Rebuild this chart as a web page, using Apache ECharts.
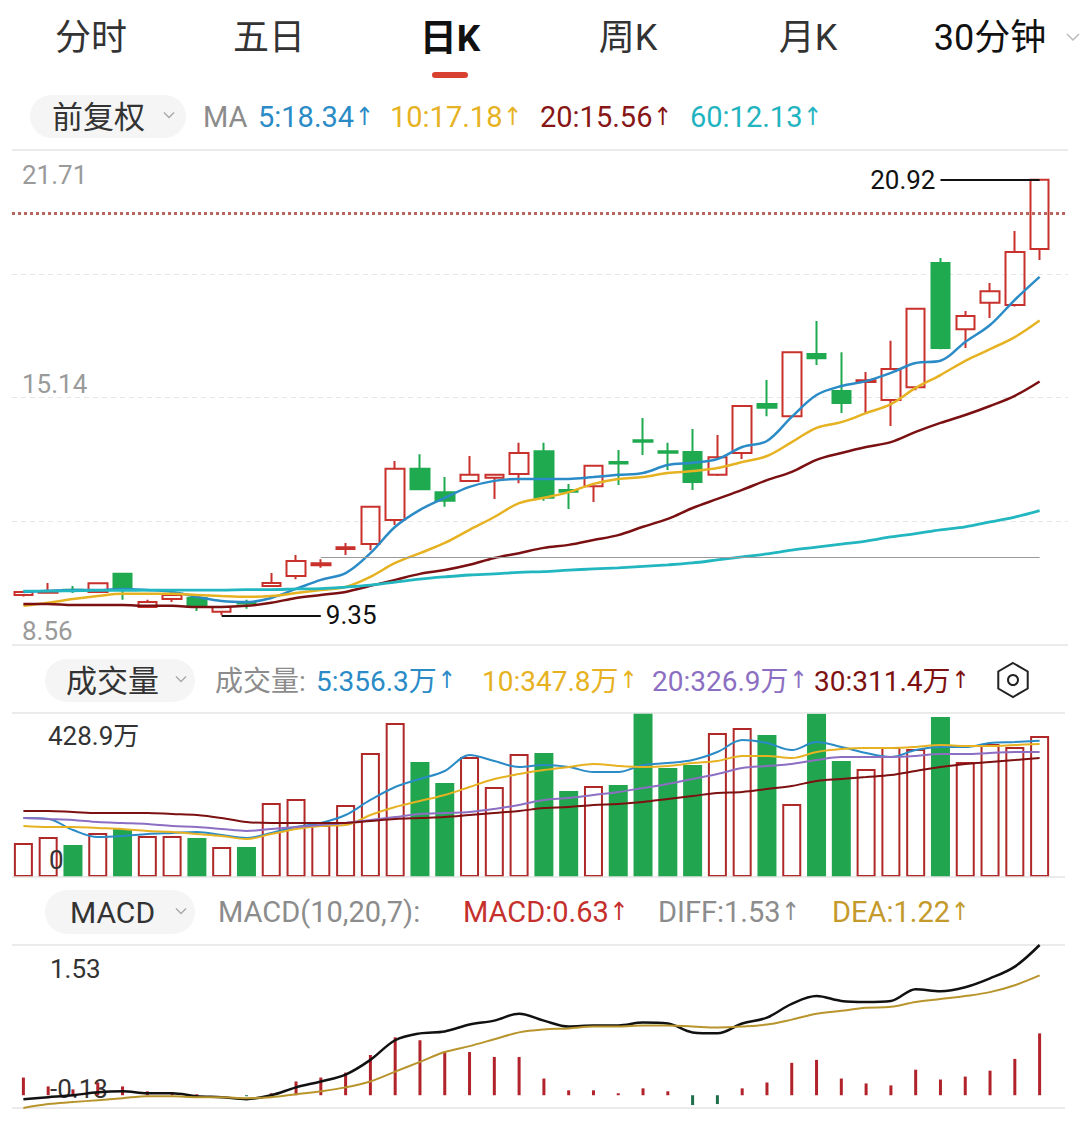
<!DOCTYPE html>
<html>
<head>
<meta charset="utf-8">
<title>日K</title>
<script src="https://cdn.jsdelivr.net/npm/echarts@6.0.0/dist/echarts.min.js"></script>
<style>
    html, body { margin: 0; padding: 0; background: #fff; }
    #chart { width: 1080px; height: 1124px; }
</style>
</head>
<body>
<div id="chart"></div>
<script>
(function () {
    // 坐标轴范围与刻度文字
    var priceMin = 8.56, priceMax = 21.71;
    var priceTicks = ['8.56', '15.14', '21.71'];
    var volMax = 428.9;
    var volTicks = ['0', '428.9万'];
    var macdMin = -0.13, macdMax = 1.53;
    var macdTicks = ['-0.13', '1.53'];

    // K线: 开 收 低 高
    var openP  = [9.89, 9.95, 10.03, 9.97, 10.45, 9.57, 9.78, 9.81, 9.44, 9.70,
                  10.13, 10.39, 10.68, 11.11, 11.24, 11.88, 13.24, 12.62, 12.92, 13.00,
                  13.10, 13.71, 12.68, 12.78, 13.42, 14.00, 13.71, 13.69, 13.08, 13.66,
                  14.96, 14.64, 16.29, 15.31, 15.55, 15.07, 15.41, 18.71, 16.95, 17.65,
                  17.59, 19.08];
    var closeP = [9.97, 9.97, 10.01, 10.20, 10.02, 9.70, 9.89, 9.57, 9.57, 9.66,
                  10.21, 10.79, 10.73, 11.16, 12.23, 13.24, 12.70, 12.39, 13.08, 13.08,
                  13.66, 12.47, 12.63, 13.32, 13.38, 13.96, 13.67, 12.89, 13.55, 14.91,
                  14.86, 16.34, 16.18, 14.99, 15.59, 15.89, 17.49, 16.45, 17.30, 17.96,
                  19.00, 20.92];
    var lowP   = [9.85, 9.93, 9.94, 9.95, 9.76, 9.54, 9.70, 9.46, 9.35, 9.52,
                  10.10, 10.31, 10.61, 10.95, 11.08, 11.75, 12.68, 12.23, 12.90, 12.44,
                  12.86, 12.39, 12.17, 12.36, 12.81, 13.61, 13.21, 12.68, 13.05, 13.50,
                  14.64, 14.62, 16.00, 14.72, 14.72, 14.38, 15.33, 16.42, 16.45, 17.25,
                  17.55, 18.79];
    var highP  = [10.00, 10.21, 10.13, 10.23, 10.47, 9.76, 9.90, 9.82, 9.58, 9.76,
                  10.47, 10.95, 10.84, 11.27, 12.25, 13.45, 13.63, 13.02, 13.58, 13.09,
                  13.93, 13.93, 12.84, 13.35, 13.74, 14.59, 13.93, 14.30, 14.14, 14.93,
                  15.60, 16.36, 17.17, 16.34, 15.81, 16.64, 17.50, 18.84, 17.43, 18.18,
                  19.56, 20.92];

    var ma5  = [9.97, 10.00, 10.02, 10.02, 10.05, 10.02, 9.97, 9.84, 9.73, 9.70,
                9.81, 10.05, 10.29, 10.47, 11.00, 11.70, 12.15, 12.47, 12.76, 12.92,
                12.97, 12.97, 12.97, 13.02, 13.08, 13.13, 13.34, 13.40, 13.50, 13.82,
                13.98, 14.62, 15.20, 15.44, 15.57, 15.79, 16.05, 16.11, 16.61, 17.06,
                17.73, 18.34];
    var ma10 = [9.60, 9.68, 9.78, 9.86, 9.92, 9.92, 9.92, 9.89, 9.86, 9.84,
                9.86, 9.94, 10.02, 10.10, 10.37, 10.74, 11.00, 11.27, 11.62, 11.96,
                12.33, 12.47, 12.62, 12.84, 12.97, 13.02, 13.13, 13.18, 13.26, 13.42,
                13.58, 13.95, 14.33, 14.48, 14.72, 14.96, 15.39, 15.73, 16.11, 16.42,
                16.74, 17.18];
    var ma20 = [9.65, 9.65, 9.62, 9.62, 9.62, 9.60, 9.60, 9.57, 9.57, 9.60,
                9.68, 9.81, 9.89, 9.97, 10.13, 10.29, 10.45, 10.55, 10.69, 10.87,
                11.00, 11.14, 11.22, 11.35, 11.48, 11.70, 11.91, 12.20, 12.44, 12.68,
                12.94, 13.16, 13.48, 13.66, 13.82, 13.95, 14.22, 14.46, 14.67, 14.91,
                15.18, 15.56];
    var ma60 = [9.99, 9.99, 10.00, 10.01, 10.01, 10.02, 10.02, 10.02, 10.02, 10.03,
                10.03, 10.05, 10.06, 10.10, 10.15, 10.23, 10.31, 10.37, 10.42, 10.45,
                10.49, 10.51, 10.55, 10.58, 10.61, 10.65, 10.69, 10.74, 10.82, 10.90,
                10.98, 11.08, 11.16, 11.24, 11.32, 11.43, 11.52, 11.62, 11.70, 11.83,
                11.96, 12.13];

    // 成交量 (万)
    var volume = [88.9, 104.6, 83.7, 115.1, 125.5, 107.2, 107.2, 102.0, 78.5, 78.5,
                  193.5, 204.0, 136.0, 188.3, 324.3, 402.7, 300.7, 245.8, 313.8, 235.4,
                  321.6, 324.3, 224.9, 238.0, 240.6, 428.9, 285.0, 292.9, 376.6, 389.6,
                  371.3, 190.9, 427.5, 303.3, 282.4, 340.0, 334.7, 418.4, 300.7, 347.8,
                  340.0, 368.7];
    var vma5  = [154.3, 151.7, 122.9, 104.6, 107.2, 112.4, 115.1, 117.7, 109.8, 102.0,
                 115.1, 130.8, 141.2, 162.1, 201.4, 235.4, 256.3, 277.2, 319.0, 303.3,
                 287.7, 292.9, 287.7, 274.6, 274.6, 292.9, 298.1, 306.0, 326.9, 358.3,
                 350.4, 332.1, 353.0, 340.0, 324.3, 313.8, 332.1, 340.0, 340.0, 350.4,
                 353.0, 356.3];
    var vma10 = [133.4, 130.8, 130.8, 128.1, 125.5, 120.3, 117.7, 112.4, 107.2, 99.4,
                 112.4, 125.5, 133.4, 136.0, 162.1, 183.1, 198.7, 214.4, 235.4, 256.3,
                 269.3, 279.8, 287.7, 295.5, 290.3, 287.7, 290.3, 298.1, 303.3, 316.4,
                 316.4, 311.2, 326.9, 334.7, 337.3, 337.3, 340.0, 345.2, 342.6, 342.6,
                 345.2, 347.8];
    var vma20 = [154.3, 151.7, 149.1, 143.8, 141.2, 138.6, 133.4, 130.8, 125.5, 120.3,
                 125.5, 130.8, 136.0, 141.2, 149.1, 156.9, 164.7, 167.4, 170.0, 177.8,
                 188.3, 201.4, 206.6, 214.4, 222.3, 232.7, 243.2, 256.3, 269.3, 285.0,
                 290.3, 295.5, 306.0, 313.8, 313.8, 313.8, 316.4, 321.6, 321.6, 324.3,
                 326.9, 326.9];
    var vma30 = [172.6, 172.6, 170.0, 167.4, 167.4, 167.4, 164.7, 162.1, 154.3, 143.8,
                 141.2, 141.2, 141.2, 141.2, 146.4, 151.7, 154.3, 156.9, 162.1, 167.4,
                 172.6, 180.4, 183.1, 188.3, 190.9, 196.1, 204.0, 211.8, 219.7, 222.3,
                 230.1, 238.0, 251.0, 256.3, 261.5, 266.7, 277.2, 287.7, 295.5, 300.7,
                 306.0, 311.4];

    // MACD(10,20,7)
    var diff = [-0.04, -0.02, 0.00, 0.03, 0.04, 0.02, 0.02, -0.01, -0.02, -0.04,
                0.00, 0.08, 0.14, 0.21, 0.36, 0.56, 0.63, 0.65, 0.72, 0.76,
                0.83, 0.76, 0.70, 0.71, 0.71, 0.74, 0.73, 0.64, 0.63, 0.73,
                0.79, 0.93, 1.01, 0.96, 0.95, 0.96, 1.08, 1.06, 1.10, 1.19,
                1.31, 1.53];
    var dea  = [-0.13, -0.09, -0.07, -0.05, -0.03, -0.01, -0.01, -0.02, -0.02, -0.03,
                -0.02, 0.01, 0.04, 0.08, 0.14, 0.24, 0.34, 0.44, 0.50, 0.57,
                0.64, 0.67, 0.68, 0.70, 0.70, 0.71, 0.71, 0.70, 0.69, 0.70,
                0.72, 0.77, 0.83, 0.86, 0.89, 0.90, 0.95, 0.98, 1.01, 1.05,
                1.12, 1.22];
    var macd = [0.18, 0.09, 0.06, 0.13, 0.09, 0.04, 0.03, 0.01, 0.00, -0.01,
                0.02, 0.14, 0.18, 0.23, 0.41, 0.59, 0.56, 0.45, 0.44, 0.39,
                0.39, 0.17, 0.05, 0.05, 0.02, 0.07, 0.04, -0.10, -0.09, 0.07,
                0.13, 0.33, 0.36, 0.17, 0.12, 0.10, 0.26, 0.16, 0.19, 0.25,
                0.37, 0.63];

    // 标注
    var alertPrice = 20.04;
    var refPrice = 10.90, refFrom = 12;
    var hiIdx = 41, hiVal = 20.92, hiTo = 37;
    var loIdx = 8, loVal = 9.35, loTo = 12;

    var UP = '#c8312c', DOWN = '#1faa50';
    var FONT = 'Roboto, "Noto Sans CJK SC", sans-serif';
    var CLEAR = 'rgba(255,255,255,0)';

    var days = openP.map(function (v, i) { return String(i + 1); });
    var candles = openP.map(function (o, i) { return [o, closeP[i], lowP[i], highP[i]]; });
    var isUp = openP.map(function (o, i) { return closeP[i] >= o; });

    function pickLabel(ticks, vals) {
        return function (v) {
            for (var i = 0; i < vals.length; i++) {
                if (Math.abs(v - vals[i]) < 1e-4) return ticks[i];
            }
            return '';
        };
    }

    function bgX(grid) {
        return { type: 'value', gridIndex: grid, min: 0, max: 1, show: false };
    }
    function dataX(grid) {
        return { type: 'category', gridIndex: grid, data: days, boundaryGap: true, show: false };
    }
    function hiddenY(grid, mn, mx) {
        return { type: 'value', gridIndex: grid, min: mn, max: mx, show: false, splitLine: { show: false } };
    }
    function labelY(grid, mn, mx, interval, fmt, vAlign, pad, color, margin, split, z) {
        return {
            type: 'value', gridIndex: grid, position: 'left', min: mn, max: mx, interval: interval,
            z: z || 0,
            axisLine: { show: false }, axisTick: { show: false },
            axisLabel: {
                inside: true, margin: margin, color: color, fontSize: 26, fontFamily: FONT,
                verticalAlign: vAlign, padding: pad, formatter: fmt
            },
            splitLine: split || { show: false }
        };
    }

    function maLine(name, data, color, xi, yi, width) {
        return {
            name: name, type: 'line', xAxisIndex: xi, yAxisIndex: yi, data: data,
            symbol: 'none', smooth: 0.35, silent: true,
            lineStyle: { color: color, width: width }, z: 3
        };
    }

    var solidSplit = { show: true, lineStyle: { color: '#e4e4e4', width: 1.5 } };
    var priceStep = (priceMax - priceMin) / 4;

    // 顶部文字
    var graphics = [];
    function txt(x, y, s, color, size, align, weight) {
        graphics.push({
            type: 'text', x: x, y: y, silent: true,
            style: {
                text: s.replace('↑', '{a|↑}'), fill: color, fontSize: size, fontFamily: FONT,
                fontWeight: weight || 'normal', align: align || 'left', verticalAlign: 'middle',
                rich: { a: { fill: color, fontSize: size - 4, fontFamily: '"DejaVu Sans Condensed", "DejaVu Sans", sans-serif', padding: [0, 0, 2, 1] } }
            }
        });
    }
    function pill(x, y, w, h) {
        graphics.push({ type: 'rect', silent: true, shape: { x: x, y: y, width: w, height: h, r: h / 2 },
            style: { fill: '#f5f5f5' } });
    }
    function chevron(cx, cy, w, color) {
        graphics.push({ type: 'polyline', silent: true,
            shape: { points: [[cx - w, cy - w / 2], [cx, cy + w / 2], [cx + w, cy - w / 2]] },
            style: { stroke: color, lineWidth: 1.5, fill: null } });
    }

    txt(91, 38, '分时', '#333', 36, 'center');
    txt(269, 38, '五日', '#333', 36, 'center');
    txt(450, 38, '日K', '#111', 37, 'center', 'bold');
    txt(628, 38, '周K', '#333', 36, 'center');
    txt(808, 38, '月K', '#333', 36, 'center');
    txt(990, 38, '30分钟', '#111', 36, 'center');
    chevron(1073, 37, 6, '#bbb');
    graphics.push({ type: 'rect', silent: true, shape: { x: 432, y: 72, width: 36, height: 6, r: 3 },
        style: { fill: '#d8412f' } });

    pill(30, 95, 156, 43);
    txt(52, 117, '前复权', '#333', 31);
    chevron(169, 115, 5, '#aaa');
    txt(203, 117, 'MA', '#8c8c8c', 29);
    txt(258, 117, '5:18.34↑', '#2b8bc6', 29);
    txt(390, 117, '10:17.18↑', '#e6b222', 29);
    txt(540, 117, '20:15.56↑', '#871515', 29);
    txt(690, 117, '60:12.13↑', '#1fb4bf', 29);

    pill(45, 659, 150, 43);
    txt(66, 681, '成交量', '#333', 31);
    chevron(181, 679, 5, '#aaa');
    txt(215, 681, '成交量:', '#8c8c8c', 28);
    txt(316, 681, '5:356.3万↑', '#2b8bc6', 28);
    txt(482, 681, '10:347.8万↑', '#e6b222', 28);
    txt(652, 681, '20:326.9万↑', '#8c6fc2', 28);
    txt(814, 681, '30:311.4万↑', '#7d1010', 28);
    var hex = [];
    for (var k = 0; k < 6; k++) {
        var a = Math.PI / 180 * (60 * k - 90);
        hex.push([1013 + 17 * Math.cos(a), 680 + 17 * Math.sin(a)]);
    }
    graphics.push({ type: 'polygon', silent: true, shape: { points: hex },
        style: { stroke: '#222', lineWidth: 2, fill: null } });
    graphics.push({ type: 'circle', silent: true, shape: { cx: 1013, cy: 680, r: 5 },
        style: { stroke: '#222', lineWidth: 2, fill: null } });

    pill(45, 890, 150, 44);
    txt(70, 912, 'MACD', '#333', 30);
    chevron(181, 911, 5, '#aaa');
    txt(218, 912, 'MACD(10,20,7):', '#8c8c8c', 29);
    txt(463, 912, 'MACD:0.63↑', '#c5302d', 29);
    txt(658, 912, 'DIFF:1.53↑', '#8c8c8c', 29);
    txt(832, 912, 'DEA:1.22↑', '#c49a2c', 29);

    var chart = echarts.init(document.getElementById('chart'), null, { renderer: 'svg' });

    var option = {
        animation: false,
        backgroundColor: '#fff',
        graphic: graphics,
        grid: [
            { left: 12, right: 12, top: 150, height: 495 },
            { left: 11, right: 28, top: 150, height: 495 },
            { left: 12, right: 15, top: 713, height: 164 },
            { left: 11, right: 28, top: 713, height: 164 },
            { left: 12, right: 15, top: 945, height: 163 },
            { left: 11, right: 28, top: 945, height: 163 }
        ],
        xAxis: [bgX(0), dataX(1), bgX(2), dataX(3), bgX(4), dataX(5)],
        yAxis: [
            // 0: 主图虚线 + 中/底刻度
            labelY(0, priceMin, priceMax, priceStep,
                pickLabel([priceTicks[0], priceTicks[1]], [priceMin, priceMin + 2 * priceStep]),
                'bottom', [0, 0, 1, 0], '#9a9a9a', 10,
                { show: true, showMinLine: false, showMaxLine: false,
                  lineStyle: { color: '#e6e6e6', type: [5, 4], width: 1.2 } }),
            // 1: 主图上下实线 + 顶刻度
            labelY(0, priceMin, priceMax, priceMax - priceMin,
                pickLabel([priceTicks[2]], [priceMax]), 'top', [12, 0, 0, 0], '#9a9a9a', 10, solidSplit),
            hiddenY(1, priceMin, priceMax),
            // 3,4: 成交量
            labelY(2, 0, volMax, volMax, pickLabel([volTicks[0]], [0]), 'bottom', [0, 0, 4, 0], '#333', 37, solidSplit, 5),
            labelY(2, 0, volMax, volMax, pickLabel([volTicks[1]], [volMax]), 'top', [10, 0, 0, 0], '#333', 36, null, 5),
            hiddenY(3, 0, volMax),
            // 6,7: MACD
            labelY(4, macdMin, macdMax, macdMax - macdMin, pickLabel([macdTicks[0]], [macdMin]), 'bottom', [0, 0, 6, 0], '#333', 38, solidSplit),
            labelY(4, macdMin, macdMax, macdMax - macdMin, pickLabel([macdTicks[1]], [macdMax]), 'top', [11, 0, 0, 0], '#333', 38),
            hiddenY(5, macdMin, macdMax)
        ],
        series: [
            {
                name: '提示线', type: 'line', xAxisIndex: 0, yAxisIndex: 1, data: [], silent: true,
                markLine: {
                    silent: true, symbol: ['none', 'none'], label: { show: false },
                    lineStyle: { color: '#b9645c', width: 3, type: [3, 3] },
                    data: [{ yAxis: alertPrice }]
                }
            },
            {
                name: '日K', type: 'candlestick', xAxisIndex: 1, yAxisIndex: 2, data: candles,
                barWidth: 19, silent: true, z: 2,
                itemStyle: { color: CLEAR, color0: DOWN, borderColor: UP, borderColor0: DOWN, borderWidth: 2 },
                markLine: {
                    silent: true, symbol: ['none', 'none'],
                    lineStyle: { color: '#111', width: 2, type: 'solid' },
                    label: {
                        show: true, position: 'end', distance: 5, color: '#111',
                        fontSize: 26, fontFamily: FONT, formatter: function (p) { return p.name; }
                    },
                    data: [
                        [{ name: hiVal.toFixed(2), coord: [hiIdx, hiVal] }, { name: hiVal.toFixed(2), coord: [hiTo, hiVal] }],
                        [{ name: loVal.toFixed(2), coord: [loIdx, loVal] }, { name: loVal.toFixed(2), coord: [loTo, loVal] }]
                    ]
                }
            },
            maLine('MA5', ma5, '#2b8bc6', 1, 2, 2.5),
            maLine('MA10', ma10, '#e6b222', 1, 2, 2.5),
            maLine('MA20', ma20, '#7a1012', 1, 2, 2.5),
            (function () {
                var s = maLine('MA60', ma60, '#22b6c0', 1, 2, 2.8);
                s.markLine = {
                    silent: true, symbol: ['none', 'none'], label: { show: false },
                    lineStyle: { color: '#9a9a9a', width: 1.2, type: 'solid' },
                    data: [[{ coord: [refFrom, refPrice] }, { coord: [days.length - 1, refPrice] }]]
                };
                return s;
            })(),
            {
                name: '成交量', type: 'bar', xAxisIndex: 3, yAxisIndex: 5, barWidth: 19, silent: true,
                data: volume.map(function (v, i) {
                    return {
                        value: v,
                        itemStyle: isUp[i]
                            ? { color: CLEAR, borderColor: '#b02828', borderWidth: 2 }
                            : { color: '#21a64f' }
                    };
                })
            },
            maLine('VMA5', vma5, '#2b8bc6', 3, 5, 2),
            maLine('VMA10', vma10, '#e6b222', 3, 5, 2),
            maLine('VMA20', vma20, '#8c6fc2', 3, 5, 2),
            maLine('VMA30', vma30, '#7d1010', 3, 5, 2),
            {
                name: 'MACD', type: 'bar', xAxisIndex: 5, yAxisIndex: 8, barWidth: 3, silent: true,
                data: macd.map(function (v) {
                    return { value: v, itemStyle: { color: v >= 0 ? '#b1222a' : '#1f6e4a' } };
                })
            },
            maLine('DIFF', diff, '#111', 5, 8, 2.5),
            maLine('DEA', dea, '#b8952c', 5, 8, 2)
        ]
    };

    chart.setOption(option);
})();
</script>
</body>
</html>
